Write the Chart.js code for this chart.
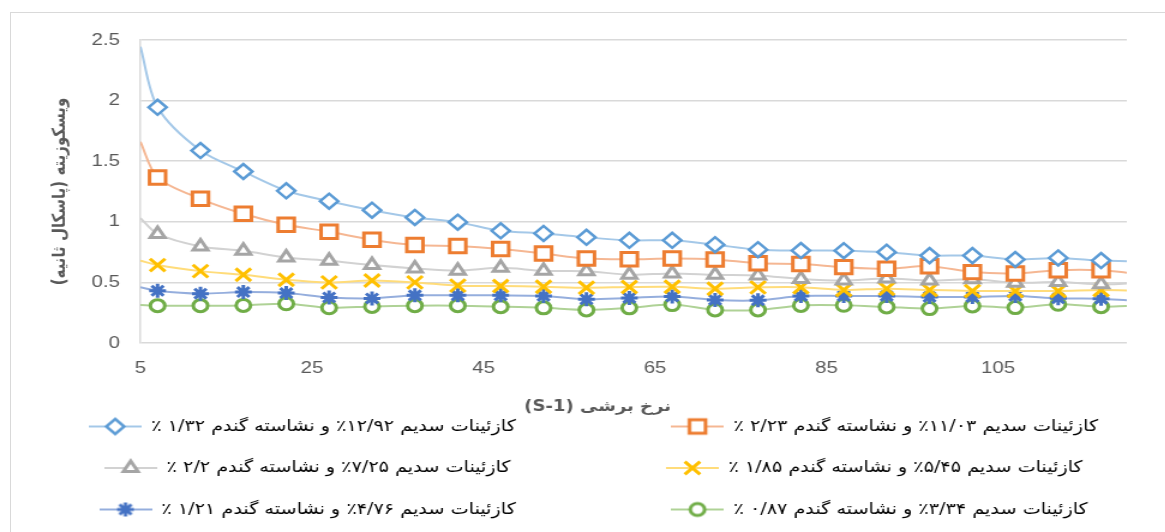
<!DOCTYPE html>
<html>
<head>
<meta charset="utf-8">
<style>
  html, body { margin: 0; padding: 0; background: #fff; overflow: hidden; }
  #frame { position: absolute; left: 10px; top: 12px; width: 1170px; height: 540px; border: 1.5px solid #d9d9d9; box-sizing: border-box; }
  /* the reference is a horizontally stretched picture, so the chart is drawn narrower and widened */
  #wrap { position: absolute; left: 0; top: 0; width: 971px; height: 532px; direction: rtl; transform: scaleX(1.2); transform-origin: 0 0; }
</style>
</head>
<body>
<div id="frame"></div>
<div id="wrap"><canvas id="myChart"></canvas></div>
<script src="https://cdn.jsdelivr.net/npm/chart.js"></script>
<script>
// shear rate (x); first and last values are where the curves meet the axis bounds
const shearRate = [5, 7, 12, 17, 22, 27, 32, 37, 42, 47, 52, 57, 62, 67, 72, 77, 82, 87, 92, 97, 102, 107, 112, 117, 120];
const xTicks = [5, 25, 45, 65, 85, 105];
const yTicks = [0, 0.5, 1, 1.5, 2, 2.5];

const s1292 = [2.445, 1.945, 1.588, 1.415, 1.256, 1.170, 1.096, 1.036, 0.997, 0.926, 0.904, 0.872, 0.847, 0.847, 0.811, 0.770, 0.763, 0.762, 0.749, 0.721, 0.721, 0.689, 0.702, 0.680, 0.675];
const s1103 = [1.66, 1.365, 1.19, 1.066, 0.975, 0.918, 0.852, 0.808, 0.80, 0.776, 0.738, 0.697, 0.691, 0.697, 0.689, 0.658, 0.652, 0.626, 0.612, 0.634, 0.585, 0.574, 0.601, 0.601, 0.58];
const s725 = [1.03, 0.90, 0.797, 0.761, 0.706, 0.679, 0.643, 0.615, 0.596, 0.62, 0.596, 0.593, 0.563, 0.574, 0.563, 0.557, 0.529, 0.516, 0.533, 0.516, 0.525, 0.497, 0.503, 0.484, 0.49];
const s545 = [0.68, 0.643, 0.593, 0.563, 0.522, 0.50, 0.516, 0.50, 0.473, 0.47, 0.464, 0.456, 0.462, 0.464, 0.448, 0.459, 0.46, 0.437, 0.448, 0.437, 0.429, 0.429, 0.429, 0.437, 0.434];
const s476 = [0.46, 0.431, 0.407, 0.42, 0.412, 0.376, 0.368, 0.393, 0.393, 0.393, 0.388, 0.361, 0.372, 0.383, 0.355, 0.352, 0.388, 0.388, 0.388, 0.38, 0.38, 0.388, 0.369, 0.366, 0.352];
const s334 = [0.313, 0.308, 0.308, 0.31, 0.324, 0.291, 0.302, 0.308, 0.308, 0.30, 0.29, 0.273, 0.29, 0.317, 0.273, 0.273, 0.31, 0.311, 0.298, 0.284, 0.306, 0.292, 0.32, 0.30, 0.306];

const seriesNames = [
  'کازئینات سدیم ۱۲/۹۲٪ و نشاسته گندم ۱/۳۲ ٪',
  'کازئینات سدیم ۱۱/۰۳٪ و نشاسته گندم ۲/۲۳ ٪',
  'کازئینات سدیم ۷/۲۵٪ و نشاسته گندم ۲/۲ ٪',
  'کازئینات سدیم ۵/۴۵٪ و نشاسته گندم ۱/۸۵ ٪',
  'کازئینات سدیم ۴/۷۶٪ و نشاسته گندم ۱/۲۱ ٪',
  'کازئینات سدیم ۳/۳۴٪ و نشاسته گندم ۰/۸۷ ٪'
];

const styles = [
  { marker: '#5B9BD5', line: '#A4C8E8', shape: 'rectRot', r: 7.5, bw: 2.5 },
  { marker: '#ED7D31', line: '#F5B793', shape: 'rect', r: 9.5, bw: 3 },
  { marker: '#A5A5A5', line: '#D2D2D2', shape: 'triangle', r: 7, bw: 3 },
  { marker: '#FFC000', line: '#FFDC7A', shape: 'crossRot', r: 9, bw: 3 },
  { marker: '#4472C4', line: '#95AEDD', shape: 'star', r: 7, bw: 3 },
  { marker: '#70AD47', line: '#AFD296', shape: 'circle', r: 6, bw: 3 }
];
const allSeries = [s1292, s1103, s725, s545, s476, s334];

// little line+marker picture for the legend
function drawMarker(ctx, shape, x, y, r) {
  ctx.beginPath();
  if (shape === 'rectRot') {
    ctx.moveTo(x, y - r); ctx.lineTo(x + r, y); ctx.lineTo(x, y + r); ctx.lineTo(x - r, y); ctx.closePath();
    ctx.fill(); ctx.stroke();
  } else if (shape === 'rect') {
    const h = r * Math.SQRT1_2;
    ctx.rect(x - h, y - h, 2 * h, 2 * h); ctx.fill(); ctx.stroke();
  } else if (shape === 'triangle') {
    ctx.moveTo(x, y - r); ctx.lineTo(x + r * 0.866, y + r * 0.5); ctx.lineTo(x - r * 0.866, y + r * 0.5); ctx.closePath();
    ctx.fill(); ctx.stroke();
  } else if (shape === 'circle') {
    ctx.arc(x, y, r, 0, Math.PI * 2); ctx.fill(); ctx.stroke();
  } else {
    const d = r * Math.SQRT1_2;
    ctx.moveTo(x - d, y - d); ctx.lineTo(x + d, y + d);
    ctx.moveTo(x + d, y - d); ctx.lineTo(x - d, y + d);
    if (shape === 'star') {
      ctx.moveTo(x, y - r); ctx.lineTo(x, y + r);
      ctx.moveTo(x - r, y); ctx.lineTo(x + r, y);
    }
    ctx.stroke();
  }
}
function legendGlyph(st) {
  const c = document.createElement('canvas');
  c.width = 44; c.height = 22;
  const g = c.getContext('2d');
  g.strokeStyle = st.line; g.lineWidth = 2;
  g.beginPath(); g.moveTo(0, 11); g.lineTo(44, 11); g.stroke();
  g.strokeStyle = st.marker; g.fillStyle = '#fff'; g.lineWidth = st.bw;
  drawMarker(g, st.shape, 22, 11, st.r);
  return c;
}

const datasets = allSeries.map((vals, i) => ({
  label: seriesNames[i],
  data: vals.map((v, k) => ({ x: shearRate[k], y: v })),
  borderColor: styles[i].line,
  borderWidth: 2,
  tension: 0.3,
  pointStyle: styles[i].shape,
  pointRadius: vals.map((v, k) => (k === 0 || k === vals.length - 1) ? 0 : styles[i].r),
  pointBorderColor: styles[i].marker,
  pointBackgroundColor: '#fff',
  pointBorderWidth: styles[i].bw,
  glyph: legendGlyph(styles[i])
}));

const gap = '\u2003'.repeat(6) + '\u2002';
const tickFont = { family: 'Liberation Sans', size: 17 };

new Chart(document.getElementById('myChart'), {
  type: 'line',
  data: { datasets: datasets },
  options: {
    responsive: true,
    maintainAspectRatio: false,
    animation: false,
    layout: { padding: { top: 40, right: 0, left: 18, bottom: 4.5 } },
    scales: {
      x: {
        type: 'linear',
        min: 5,
        max: 120,
        afterFit: s => { s.height = 50; },
        afterBuildTicks: s => { s.ticks = xTicks.map(v => ({ value: v })); },
        grid: { display: false, drawTicks: false },
        border: { display: false },
        ticks: { padding: 15, color: '#595959', font: tickFont },
        // leading spaces sit on the right in rtl text and nudge the title left, as in the original
        title: { display: true, text: '\u2003\u2003\u2003\u2003نرخ برشی (S-1)', color: '#595959', padding: { top: 0, bottom: -23 }, font: { family: 'DejaVu Sans', size: 15, weight: 'bold' } }
      },
      y: {
        min: 0,
        max: 2.5,
        afterFit: s => { s.width = 99; },
        afterBuildTicks: s => { s.ticks = yTicks.map(v => ({ value: v })); },
        grid: { color: '#d9d9d9', lineWidth: 1.5, drawTicks: false },
        border: { display: true, color: '#d9d9d9', width: 1.5 },
        ticks: { padding: 17, color: '#595959', font: tickFont, callback: v => String(v) },
        title: { display: true, text: 'ویسکوزیته (پاسکال ثانیه)', color: '#595959', padding: { top: 23, bottom: 0 }, font: { family: 'DejaVu Sans', size: 15, weight: 'bold' } }
      },
      yRight: {
        position: 'right',
        afterFit: s => { s.width = 32; },
        grid: { display: false, drawTicks: false },
        border: { display: false },
        ticks: { display: false }
      }
    },
    plugins: {
      tooltip: { enabled: false },
      legend: {
        position: 'bottom',
        labels: {
          usePointStyle: true,
          pointStyleWidth: 44,
          padding: 25.5,
          color: '#595959',
          font: { family: 'DejaVu Sans', size: 16 },
          generateLabels: chart => chart.data.datasets.map((ds, i) => ({
            text: (i % 2 === 0 ? gap : '') + ds.label,
            pointStyle: ds.glyph,
            fillStyle: '#fff',
            strokeStyle: ds.borderColor,
            lineWidth: 0,
            datasetIndex: i
          }))
        }
      }
    }
  }
});
</script>
</body>
</html>
